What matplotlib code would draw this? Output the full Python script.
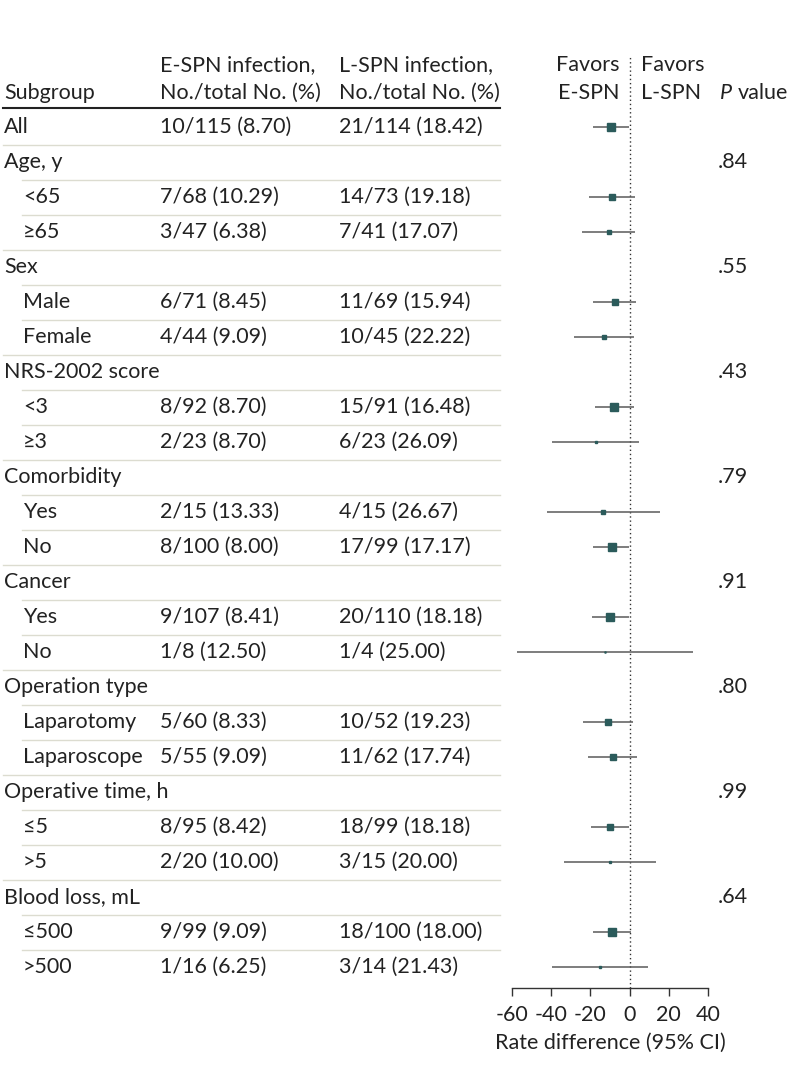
import matplotlib.pyplot as plt
from matplotlib.transforms import blended_transform_factory

plt.rcParams['font.family'] = ['Lato', 'DejaVu Sans']
plt.rcParams['axes.unicode_minus'] = False

# Table rows
labels = ['All', 'Age, y', '<65', '≥65', 'Sex', 'Male', 'Female',
          'NRS-2002 score', '<3', '≥3', 'Comorbidity', 'Yes', 'No',
          'Cancer', 'Yes', 'No', 'Operation type', 'Laparotomy', 'Laparoscope',
          'Operative time, h', '≤5', '>5', 'Blood loss, mL', '≤500', '>500']
indent = [0, 0, 1, 1, 0, 1, 1, 0, 1, 1, 0, 1, 1, 0, 1, 1, 0, 1, 1, 0, 1, 1, 0, 1, 1]
e_spn = ['10/115 (8.70)', '', '7/68 (10.29)', '3/47 (6.38)', '', '6/71 (8.45)',
         '4/44 (9.09)', '', '8/92 (8.70)', '2/23 (8.70)', '', '2/15 (13.33)',
         '8/100 (8.00)', '', '9/107 (8.41)', '1/8 (12.50)', '', '5/60 (8.33)',
         '5/55 (9.09)', '', '8/95 (8.42)', '2/20 (10.00)', '', '9/99 (9.09)',
         '1/16 (6.25)']
l_spn = ['21/114 (18.42)', '', '14/73 (19.18)', '7/41 (17.07)', '', '11/69 (15.94)',
         '10/45 (22.22)', '', '15/91 (16.48)', '6/23 (26.09)', '', '4/15 (26.67)',
         '17/99 (17.17)', '', '20/110 (18.18)', '1/4 (25.00)', '', '10/52 (19.23)',
         '11/62 (17.74)', '', '18/99 (18.18)', '3/15 (20.00)', '', '18/100 (18.00)',
         '3/14 (21.43)']
p_values = ['', '.84', '', '', '.55', '', '', '.43', '', '', '.79', '', '',
            '.91', '', '', '.80', '', '', '.99', '', '', '.64', '', '']

# Rate difference and 95% CI (None for header rows)
rd = [-9.72, None, -8.89, -10.69, None, -7.49, -13.13, None, -7.78, -17.39,
      None, -13.34, -9.17, None, -9.77, -12.50, None, -10.90, -8.65, None,
      -9.76, -10.00, None, -8.91, -15.18]
ci_lo = [-18.8, None, -20.8, -24.2, None, -18.6, -28.5, None, -17.5, -39.5,
         None, -42.0, -18.6, None, -19.0, -57.3, None, -23.7, -21.4, None,
         -19.8, -33.4, None, -18.6, -39.7]
ci_hi = [-0.4, None, 3.0, 3.0, None, 3.4, 2.0, None, 2.0, 4.6,
         None, 15.6, -0.2, None, -0.3, 32.2, None, 1.9, 3.9, None,
         -0.2, 13.4, None, 0.8, 9.3]
box_size = [5.8, None, 4.4, 3.2, None, 4.6, 3.0, None, 5.2, 1.6,
            None, 2.4, 5.8, None, 5.4, 0.8, None, 3.8, 3.8, None,
            4.6, 1.4, None, 5.4, 1.6]

W, H = 794, 1070
fig = plt.figure(figsize=(W / 100, H / 100), dpi=100)

# forest axes: -60..40 spans x px 512..708, rows 127 + 35*i px
y_top, y_bot = -2.06, 24.6
ax = fig.add_axes([512 / W, (H - 988) / H, 196 / W, (988 - 55) / H])
ax.set_xlim(-60, 40)
ax.set_ylim(y_bot, y_top)

for i in range(len(labels)):
    if rd[i] is None:
        continue
    ax.plot([ci_lo[i], ci_hi[i]], [i, i], color='#5a5a5a', lw=1.1,
            solid_capstyle='butt', clip_on=False, zorder=2)
    ax.plot(rd[i], i, marker='s', ms=box_size[i], color='#2b5b5b',
            mec='#2b5b5b', clip_on=False, zorder=3)

ax.axvline(0, color='#333333', lw=1.0, ls=(0, (1, 2)), zorder=1)

fs = 15.5
txt = '#222222'

for s in ['top', 'right', 'left']:
    ax.spines[s].set_visible(False)
ax.spines['bottom'].set_color('#333333')
ax.spines['bottom'].set_linewidth(1.0)
ax.set_yticks([])
ax.set_xticks([-60, -40, -20, 0, 20, 40])
ax.tick_params(axis='x', length=6, width=1.0, color='#333333',
               labelsize=fs, labelcolor=txt, pad=6)
ax.set_xlabel('Rate difference (95% CI)', fontsize=fs, color=txt,
              labelpad=6)

tr = blended_transform_factory(fig.transFigure, ax.transData)

# column headers (two lines each)
h1, h2 = -1.77, -0.97
ax.text(4 / W, h2, 'Subgroup', transform=tr, fontsize=fs, color=txt,
        va='center', ha='left')
for x0, l1, l2, ha in [(160, 'E-SPN infection,', 'No./total No. (%)', 'left'),
                       (339, 'L-SPN infection,', 'No./total No. (%)', 'left'),
                       (620, 'Favors', 'E-SPN', 'right'),
                       (641, 'Favors', 'L-SPN', 'left')]:
    ax.text(x0 / W, h1, l1, transform=tr, fontsize=fs, color=txt,
            va='center', ha=ha)
    ax.text(x0 / W, h2, l2, transform=tr, fontsize=fs, color=txt,
            va='center', ha=ha)
ax.text(720 / W, h2, 'P', transform=tr, fontsize=fs, color=txt,
        va='center', ha='left', style='italic')
ax.text(738 / W, h2, 'value', transform=tr, fontsize=fs, color=txt,
        va='center', ha='left')

ax.plot([3 / W, 500 / W], [-0.55, -0.55], transform=tr, color='#222222',
        lw=1.5, clip_on=False)

for i in range(len(labels)):
    x0 = 23 if indent[i] else 4
    ax.text(x0 / W, i, labels[i], transform=tr, fontsize=fs, color=txt,
            va='center', ha='left')
    ax.text(160 / W, i, e_spn[i], transform=tr, fontsize=fs, color=txt,
            va='center', ha='left')
    ax.text(339 / W, i, l_spn[i], transform=tr, fontsize=fs, color=txt,
            va='center', ha='left')
    ax.text(718 / W, i, p_values[i], transform=tr, fontsize=fs, color=txt,
            va='center', ha='left')
    if i < len(labels) - 1:
        xs = 22 if indent[i + 1] else 3
        ax.plot([xs / W, 500 / W], [i + 0.5, i + 0.5], transform=tr,
                color='#dcdcd0', lw=1.0, clip_on=False)

fig.savefig('out.png', dpi=100)
plt.close(fig)
